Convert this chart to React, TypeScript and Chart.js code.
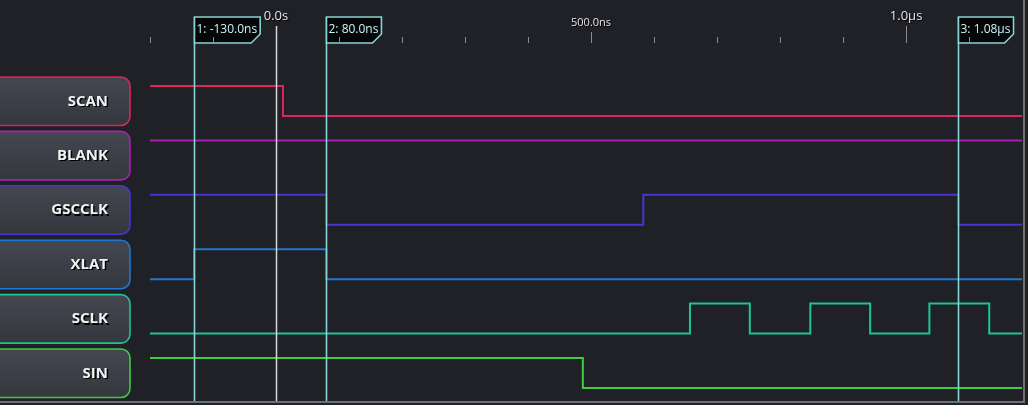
import React, { useEffect, useRef } from "react";
import { Chart, registerables } from "chart.js";

Chart.register(...registerables);

// ---- data (time in ns) ----
const TIME_MIN = -200;
const TIME_MAX = 1184;
const channelNames = ["SCAN", "BLANK", "GSCCLK", "XLAT", "SCLK", "SIN"];
const channelColors = ["#dc2658", "#a81fb8", "#4b33d2", "#1f78cf", "#1ec493", "#3fcc3f"];
const initialLevels = [1, 1, 1, 0, 0, 1];
const scanEdges = [11];
const blankEdges: number[] = [];
const gscclkEdges = [80, 583, 1083];
const xlatEdges = [-130, 80];
const sclkEdges = [657, 752, 848, 943, 1037, 1132];
const sinEdges = [487];
const channelEdges = [scanEdges, blankEdges, gscclkEdges, xlatEdges, sclkEdges, sinEdges];
const cursorTimes = [-130, 80, 1083];
const tickStep = 100;
const majorTicks = [0, 500, 1000];
const majorLabels = ["0.0s", "500.0ns", "1.0\u00b5s"];

// ---- layout ----
const W = 1028;
const H = 405;
const PLOT_LEFT = 150;
const PLOT_RIGHT = 1022;
const FIRST_HIGH_PX = 86;
const ROW_PITCH = 54.4;
const SWING_PX = 30;

function levelToY(row: number, level: number) {
  return row + (1 - level) * (SWING_PX / ROW_PITCH);
}

function buildPoints(row: number) {
  let lvl = initialLevels[row];
  const pts: { x: number; y: number }[] = [{ x: TIME_MIN, y: levelToY(row, lvl) }];
  for (const e of channelEdges[row]) {
    lvl = 1 - lvl;
    pts.push({ x: e, y: levelToY(row, lvl) });
  }
  pts.push({ x: TIME_MAX, y: levelToY(row, lvl) });
  return pts;
}

function fmtCursor(t: number) {
  if (Math.abs(t) >= 1000) return (t / 1000).toFixed(2) + "\u00b5s";
  return t.toFixed(1) + "ns";
}

const BG = "#1f2127";

const decorPlugin = {
  id: "decor",
  beforeDraw(chart: any) {
    const ctx = chart.ctx as CanvasRenderingContext2D;
    ctx.save();
    ctx.fillStyle = BG;
    ctx.fillRect(0, 0, W, H);
    // channel label boxes
    channelNames.forEach((name, i) => {
      const top = 77 + ROW_PITCH * i;
      const h = 48.5;
      const x0 = -12;
      const x1 = 130;
      const r = 9;
      ctx.beginPath();
      ctx.moveTo(x0, top);
      ctx.lineTo(x1 - r, top);
      ctx.arcTo(x1, top, x1, top + r, r);
      ctx.lineTo(x1, top + h - r);
      ctx.arcTo(x1, top + h, x1 - r, top + h, r);
      ctx.lineTo(x0, top + h);
      ctx.closePath();
      const g = ctx.createLinearGradient(0, top, 0, top + h);
      g.addColorStop(0, "#44474f");
      g.addColorStop(1, "#35373f");
      ctx.fillStyle = g;
      ctx.fill();
      ctx.lineWidth = 1.6;
      ctx.strokeStyle = channelColors[i];
      ctx.stroke();
      ctx.font = "bold 15px 'Open Sans', sans-serif";
      ctx.textAlign = "right";
      ctx.textBaseline = "middle";
      ctx.fillStyle = "#000";
      ctx.fillText(name, 109.5, top + h / 2 + 1.5);
      ctx.fillStyle = "#f2f2f2";
      ctx.fillText(name, 108, top + h / 2);
    });
    ctx.restore();
  },
  afterDatasetsDraw(chart: any) {
    const ctx = chart.ctx as CanvasRenderingContext2D;
    const xs = chart.scales.x;
    ctx.save();
    // trigger line at 0
    const x0 = Math.round(xs.getPixelForValue(0)) + 0.5;
    ctx.strokeStyle = "#d8d8d8";
    ctx.lineWidth = 1.5;
    ctx.beginPath();
    ctx.moveTo(x0, 26);
    ctx.lineTo(x0, 401);
    ctx.stroke();
    // cursors
    cursorTimes.forEach((t, i) => {
      const cx = Math.round(xs.getPixelForValue(t)) + 0.5;
      ctx.strokeStyle = "#86d4d4";
      ctx.lineWidth = 1.6;
      ctx.beginPath();
      ctx.moveTo(cx, 17);
      ctx.lineTo(cx, 401);
      ctx.stroke();
      const label = `${i + 1}: ${fmtCursor(t)}`;
      ctx.font = "12px 'Open Sans', sans-serif";
      const tw = ctx.measureText(label).width;
      const bw = tw + 5;
      ctx.beginPath();
      ctx.moveTo(cx, 17);
      ctx.lineTo(cx + bw, 17);
      ctx.lineTo(cx + bw, 34);
      ctx.lineTo(cx + bw - 9, 43);
      ctx.lineTo(cx, 43);
      ctx.closePath();
      ctx.fillStyle = "#050607";
      ctx.fill();
      ctx.stroke();
      ctx.fillStyle = "#cdf3f3";
      ctx.textAlign = "left";
      ctx.textBaseline = "middle";
      ctx.fillText(label, cx + 2, 30);
    });
    // ruler ticks
    ctx.strokeStyle = "#8a8c90";
    ctx.lineWidth = 1;
    for (let t = TIME_MIN; t <= TIME_MAX; t += tickStep) {
      if (t === 0) continue;
      const px = Math.round(xs.getPixelForValue(t)) + 0.5;
      let top = 37;
      if (t === 500) top = 32;
      if (t === 1000) top = 26;
      ctx.beginPath();
      ctx.moveTo(px, top);
      ctx.lineTo(px, 43);
      ctx.stroke();
    }
    majorTicks.forEach((t, i) => {
      const px = xs.getPixelForValue(t);
      const small = t === 500;
      ctx.font = small ? "11px 'Open Sans', sans-serif" : "13px 'Open Sans', sans-serif";
      ctx.textAlign = "center";
      ctx.textBaseline = "middle";
      const y = small ? 23 : 16;
      ctx.fillStyle = "#000";
      ctx.fillText(majorLabels[i], px + 1, y + 1);
      ctx.fillStyle = "#e6e6e6";
      ctx.fillText(majorLabels[i], px, y);
    });
    // frame lines
    ctx.fillStyle = "#6f7074";
    ctx.fillRect(0, 401, 1025, 2);
    ctx.fillRect(1023, 0, 2, 403);
    ctx.restore();
  },
};

export default function App() {
  const ref = useRef<HTMLCanvasElement | null>(null);
  useEffect(() => {
    document.body.style.margin = "0";
    document.body.style.background = BG;
    if (!ref.current) return;
    const yMin = -FIRST_HIGH_PX / ROW_PITCH;
    const yMax = (H - FIRST_HIGH_PX) / ROW_PITCH;
    const chart = new Chart(ref.current, {
      type: "line",
      data: {
        datasets: channelNames.map((name, i) => ({
          label: name,
          data: buildPoints(i),
          borderColor: channelColors[i],
          borderWidth: 2,
          pointRadius: 0,
          stepped: true,
          fill: false,
        })),
      },
      options: {
        animation: false,
        responsive: false,
        devicePixelRatio: 1,
        layout: { padding: { left: PLOT_LEFT, right: W - PLOT_RIGHT, top: 0, bottom: 0 } },
        plugins: { legend: { display: false }, tooltip: { enabled: false } },
        scales: {
          x: { type: "linear", min: TIME_MIN, max: TIME_MAX, display: false },
          y: { type: "linear", min: yMin, max: yMax, reverse: true, display: false },
        },
      },
      plugins: [decorPlugin],
    } as any);
    return () => chart.destroy();
  }, []);
  return (
    <div style={{ position: "absolute", left: 0, top: 0, width: W, height: H }}>
      <canvas ref={ref} width={W} height={H} style={{ display: "block" }} />
    </div>
  );
}
